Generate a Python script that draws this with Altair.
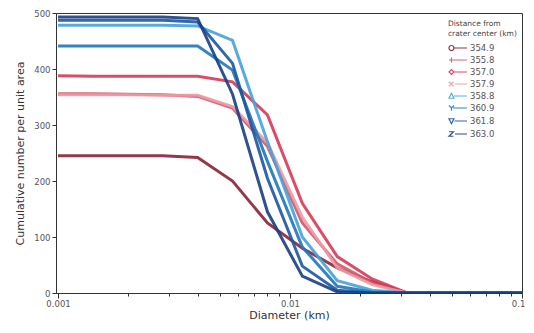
import altair as alt
import pandas as pd

diam = [0.001, 0.001414, 0.002, 0.002828, 0.004, 0.005657, 0.008, 0.011314,
        0.016, 0.022627, 0.032, 0.045255, 0.064, 0.09051, 0.128]

distances = ["354.9", "355.8", "357.0", "357.9", "358.8", "360.9", "361.8", "363.0"]

s354_9 = [245, 245, 245, 245, 242, 200, 125, 80, 45, 20, 0, 0, 0, 0, 0]
s355_8 = [356, 356, 355, 354, 351, 330, 262, 125, 52, 18, 0, 0, 0, 0, 0]
s357_0 = [388, 387, 387, 387, 387, 377, 318, 160, 65, 25, 0, 0, 0, 0, 0]
s357_9 = [354, 354, 354, 353, 353, 333, 268, 135, 45, 15, 0, 0, 0, 0, 0]
s358_8 = [478, 478, 478, 478, 477, 451, 270, 100, 22, 5, 0, 0, 0, 0, 0]
s360_9 = [441, 441, 441, 441, 441, 398, 235, 82, 12, 2, 0, 0, 0, 0, 0]
s361_8 = [487, 487, 487, 487, 484, 410, 205, 48, 5, 0, 0, 0, 0, 0, 0]
s363_0 = [493, 493, 493, 493, 490, 355, 145, 30, 2, 0, 0, 0, 0, 0, 0]

series = [s354_9, s355_8, s357_0, s357_9, s358_8, s360_9, s361_8, s363_0]

colors = ["#8a2236", "#d2566a", "#d53b55", "#ec9aa4",
          "#47a2d9", "#1f77bb", "#1c56a0", "#173f84"]

# legend marker paths: marker on the left (x -1..0), line segment to the right
shapes = [
    "M0,0 A0.5,0.5 0 1,1 -1,0 A0.5,0.5 0 1,1 0,0 L2.6,0",
    "M-1,0 L2.6,0 M-0.5,-0.5 L-0.5,0.5",
    "M-1,0 L-0.5,-0.5 L0,0 L-0.5,0.5 Z M0,0 L2.6,0",
    "M-1,-0.45 L-0.1,0.45 M-1,0.45 L-0.1,-0.45 M0.2,0 L2.6,0",
    "M-1,0.45 L-0.5,-0.55 L0,0.45 Z M0,0 L2.6,0",
    "M-1,-0.5 L-0.5,0 L0,-0.5 M-0.5,0 L-0.5,0.55 M-0.2,0 L2.6,0",
    "M-1,-0.45 L0,-0.45 L-0.5,0.55 Z M0.1,0 L2.6,0",
    "M-1,-0.45 L-0.1,-0.45 L-1,0.45 L-0.1,0.45 M0.2,0 L2.6,0",
]

rows = []
for d, vals in zip(distances, series):
    for x, y in zip(diam, vals):
        rows.append({"Diameter": x, "N": y, "Distance": d})
df = pd.DataFrame(rows)

minor = []
for p in [0.001, 0.01]:
    for m in range(1, 10):
        minor.append(round(p * m, 6))
minor.append(0.1)

FONT = "DejaVu Sans"

xenc = alt.X("Diameter:Q",
             scale=alt.Scale(type="log", domain=[0.00098, 0.1002], nice=False),
             axis=alt.Axis(title="Diameter (km)", values=minor,
                           labelExpr="(datum.value==0.001||datum.value==0.01||datum.value==0.1)?datum.label:''",
                           format="g", grid=False, titlePadding=2, labelPadding=1,
                           labelFlush=True, labelFlushOffset=3,
                           tickSize={"condition": {"test": "datum.value==0.001||datum.value==0.01||datum.value==0.1", "value": 5}, "value": 3}))
yenc = alt.Y("N:Q", scale=alt.Scale(domain=[0, 500], nice=False),
             axis=alt.Axis(title="Cumulative number per unit area", values=[0, 100, 200, 300, 400, 500],
                           grid=False, tickSize=4, titlePadding=8))

cscale = alt.Scale(domain=distances, range=colors)

legend = alt.Legend(title=["Distance from", "crater center (km)"], orient="none",
                    legendX=392, legendY=7, titleFontSize=7.5, titleFontWeight="normal",
                    titleColor="#444", labelFontSize=8.5, labelColor="#555",
                    symbolSize=100, symbolStrokeWidth=1.2, rowPadding=1,
                    labelOffset=10, titlePadding=5, symbolType="circle")

lines = alt.Chart(df).mark_line(strokeWidth=3, opacity=0.9, clip=True).encode(
    x=xenc, y=yenc,
    color=alt.Color("Distance:N", scale=cscale, legend=legend),
    detail="Distance:N",
    order=alt.Order("Diameter:Q"),
)

pts = alt.Chart(df).transform_filter("datum.N < 0").mark_point(filled=False).encode(
    x=xenc, y=yenc,
    color=alt.Color("Distance:N", scale=cscale, legend=legend),
    shape=alt.Shape("Distance:N", scale=alt.Scale(domain=distances, range=shapes), legend=legend),
)

chart = alt.layer(lines, pts).properties(
    width=466, height=280,
    padding={"left": 6, "top": 1, "right": 0, "bottom": 0},
).configure_view(stroke="#333", strokeWidth=1).configure_axis(
    labelFont=FONT, titleFont=FONT, labelFontSize=8.5, titleFontSize=11,
    labelColor="#555", titleColor="#333", domainColor="#333", tickColor="#333",
    titleFontWeight="normal",
).configure_legend(labelFont=FONT, titleFont=FONT)

chart.save("out.html", embed_options={"renderer": "svg", "actions": False})
